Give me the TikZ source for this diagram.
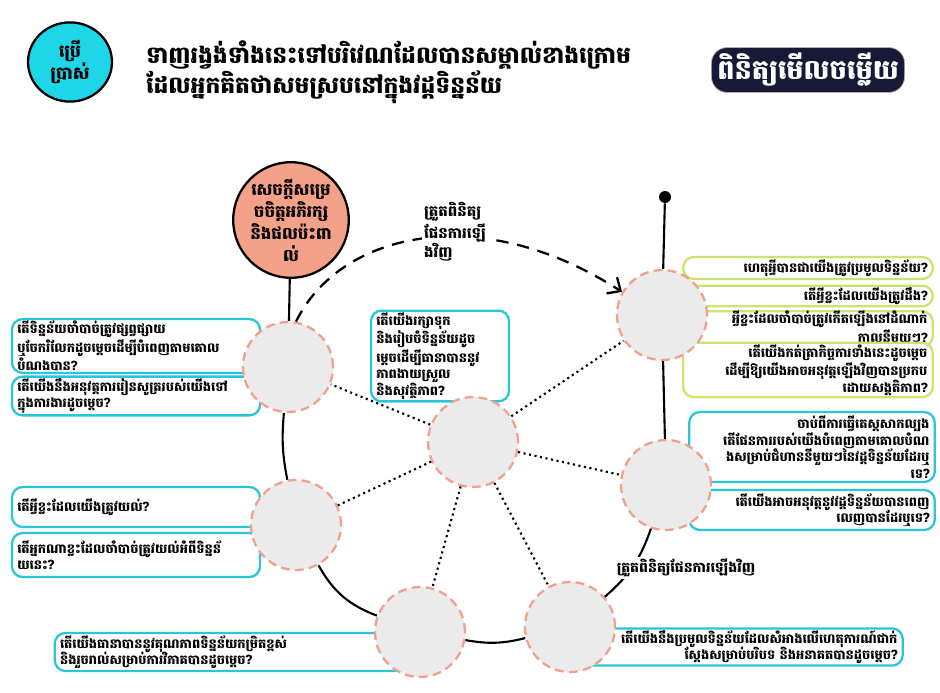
\documentclass[tikz,border=0pt]{standalone}
\usepackage{fontspec}
\usepackage{tikz}
\usetikzlibrary{arrows.meta,shapes.geometric}
\newfontfamily\kh[Script=Khmer]{Battambang}
\definecolor{Cy}{RGB}{41,197,216}
\definecolor{Gr}{RGB}{200,230,110}
\definecolor{Sa}{RGB}{240,160,144}
\definecolor{Gy}{RGB}{235,235,235}
\definecolor{Rs}{RGB}{244,161,138}
\definecolor{Tq}{RGB}{31,214,232}
\definecolor{Nv}{RGB}{22,26,54}

\tikzset{
  qbox/.style={draw=Cy, line width=1.3pt, rounded corners=6pt, fill=white,
    inner xsep=3pt, inner ysep=1pt, align=left, font=\kh\bfseries\fontsize{7.4}{9.4}\selectfont},
  gbox/.style={qbox, draw=Gr, align=right},
  spot/.style={circle, draw=Sa, fill=Gy, dash pattern=on 5pt off 3pt,
    line width=1.3pt, minimum size=1.8cm},
  ciclo/.style={line width=1.2pt},
  radio/.style={dotted, line width=1.2pt},
}

\begin{document}
\begin{tikzpicture}[x=0.02cm, y=-0.02cm]
   \useasboundingbox (0,0) rectangle (940,693);

   %Encabezado: circulo de uso, titulo y boton
   \node[ellipse, draw, line width=1.3pt, fill=Tq, minimum width=1.68cm, minimum height=1.55cm,
     align=center, font=\kh\bfseries\fontsize{10}{13}\selectfont] (usar) at (70,62) {ប្រើ\\ប្រាស់};
   \node[anchor=west, align=left, font=\kh\bfseries\fontsize{13.3}{16}\selectfont] (titulo) at (140,72)
     {ទាញរង្វង់ទាំងនេះទៅបរិវេណដែលបានសម្គាល់ខាងក្រោម\\ដែលអ្នកគិតថាសមស្របនៅក្នុងវដ្តទិន្នន័យ};
   \node[fill=Nv, draw=gray!60, rounded corners=9pt, minimum width=3.74cm, minimum height=0.8cm,
     text=white, font=\kh\bfseries\fontsize{15.5}{17}\selectfont] (revisar) at (808,70) {ពិនិត្យមើលចម្លើយ};

   %Preguntas de la izquierda
   \node[qbox, text width=4.75cm, minimum height=1.04cm] (qa) at (136,346)
     {តើទិន្នន័យចាំបាច់ត្រូវផ្សព្វផ្សាយ\\ឬចែករំលែកដូចម្តេចដើម្បីបំពេញតាមគោល\\បំណងបាន?};
   \node[qbox, text width=4.75cm, minimum height=0.76cm] (qb) at (136,396)
     {តើយើងនឹងអនុវត្តការរៀនសូត្ររបស់យើងទៅ\\ក្នុងការងារដូចម្តេច?};
   \node[qbox, text width=4.75cm, minimum height=0.8cm] (qc) at (136,507)
     {តើអ្វីខ្លះដែលយើងត្រូវយល់?};
   \node[qbox, text width=4.75cm, minimum height=0.88cm] (qd) at (136,555)
     {តើអ្នកណាខ្លះដែលចាំបាច់ត្រូវយល់អំពីទិន្នន័\\យនេះ?};

   %Preguntas de abajo y del centro
   \node[qbox, text width=6.8cm, minimum height=0.76cm] (qe) at (230,652)
     {តើយើងធានាបាននូវគុណភាពទិន្នន័យកម្រិតខ្ពស់\\និងរួចរាល់សម្រាប់ការវិភាគបានដូចម្តេច?};
   \node[qbox, align=right, text width=6.66cm, minimum height=0.74cm] (qf) at (731,647)
     {តើយើងនឹងប្រមូលទិន្នន័យដែលសំអាងលើហេតុការណ៍ជាក់\\ស្តែងសម្រាប់បរិបទ និងអនាគតបានដូចម្តេច?};
   \node[qbox, text width=2.55cm, minimum height=1.64cm] (qg) at (440,356)
     {តើយើងរក្សាទុក\\និងរៀបចំទិន្នន័យដូច\\ម្តេចដើម្បីធានាបាននូវ\\ភាពងាយស្រួល\\និងសុវត្ថិភាព?};

   %Preguntas de la derecha
   \node[gbox, text width=4.78cm, minimum height=0.44cm] (ga) at (808,268)
     {ហេតុអ្វីបានជាយើងត្រូវប្រមូលទិន្នន័យ?};
   \node[gbox, text width=4.78cm, minimum height=0.4cm] (gb) at (808,296)
     {តើអ្វីខ្លះដែលយើងត្រូវដឹង?};
   \node[gbox, text width=4.78cm, inner ysep=0pt, font=\kh\bfseries\fontsize{7.4}{8.4}\selectfont] (gc) at (808,329)
     {អ្វីខ្លះដែលចាំបាច់ត្រូវកើតឡើងនៅដំណាក់\\កាលនីមួយៗ?};
   \node[gbox, text width=4.78cm, minimum height=0.88cm] (gd) at (808,370)
     {តើយើងកត់ត្រាកិច្ចការទាំងនេះដូចម្តេច\\ដើម្បីឱ្យយើងអាចអនុវត្តឡើងវិញបានប្រកប\\ដោយសង្គតិភាព?};
   \node[qbox, align=right, text width=4.7cm, minimum height=1.4cm] (qh) at (812,447)
     {ចាប់ពីការធ្វើតេស្តសាកល្បង\\តើផែនការរបស់យើងបំពេញតាមគោលបំណ\\ងសម្រាប់ជំហាននីមួយៗនៃវដ្តទិន្នន័យដែរឬ\\ទេ?};
   \node[qbox, align=right, text width=4.7cm, minimum height=0.8cm] (qi) at (812,510)
     {តើយើងអាចអនុវត្តនូវវដ្តទិន្នន័យបានពេញ\\លេញបានដែរឬទេ?};

   %Circulos del ciclo
   \node[spot] (c0) at (473,442) {};
   \node[spot] (c1) at (288,367) {};
   \node[spot] (c2) at (296,525) {};
   \node[spot] (c3) at (420,632) {};
   \node[spot] (c4) at (570,627) {};
   \node[spot] (c5) at (666,485) {};
   \node[spot] (c6) at (662,315) {};

   \node[circle, draw, line width=1.3pt, fill=Rs, minimum size=1.96cm, inner sep=0, align=center,
     font=\kh\bfseries\fontsize{9.5}{12.5}\selectfont] (meta) at (291,220)
     {សេចក្តីសម្រេ\\ចចិត្តអភិរក្ស\\និងផលប៉ះពា\\ល់};
   \node[circle, fill, inner sep=0, minimum size=0.24cm] (pin) at (665,197) {};

   %Lineas del ciclo
   \draw[ciclo] (pin) -- (c6);
   \draw[ciclo] (c6) -- (c5);
   \draw[ciclo] (c5) to[bend left=15] (c4);
   \draw[ciclo] (c4) to[bend left=12] (c3);
   \draw[ciclo] (c3) to[bend left=20] (c2);
   \draw[ciclo] (c2) to[bend left=8] (c1);
   \draw[ciclo] (c1) -- (meta);
   \foreach \k in {1,...,6}
     \draw[radio] (c0) -- (c\k);

   %Flecha de revision
   \draw[line width=1.3pt, dash pattern=on 7pt off 5pt, -{Straight Barb[length=6pt,width=11pt]}]
     (c1.80) .. controls (340,232) and (480,200) .. (c6.150);
   \node[fill=white, inner sep=1pt, align=left, font=\kh\bfseries\fontsize{8.5}{10}\selectfont] (plan) at (455,232)
     {ត្រួតពិនិត្យ\\ផែនការឡើ\\ងវិញ};
   \node[fill=white, inner sep=1pt, font=\kh\bfseries\fontsize{8}{9}\selectfont] (repaso) at (686,568)
     {ត្រួតពិនិត្យផែនការឡើងវិញ};
\end{tikzpicture}
\end{document}
